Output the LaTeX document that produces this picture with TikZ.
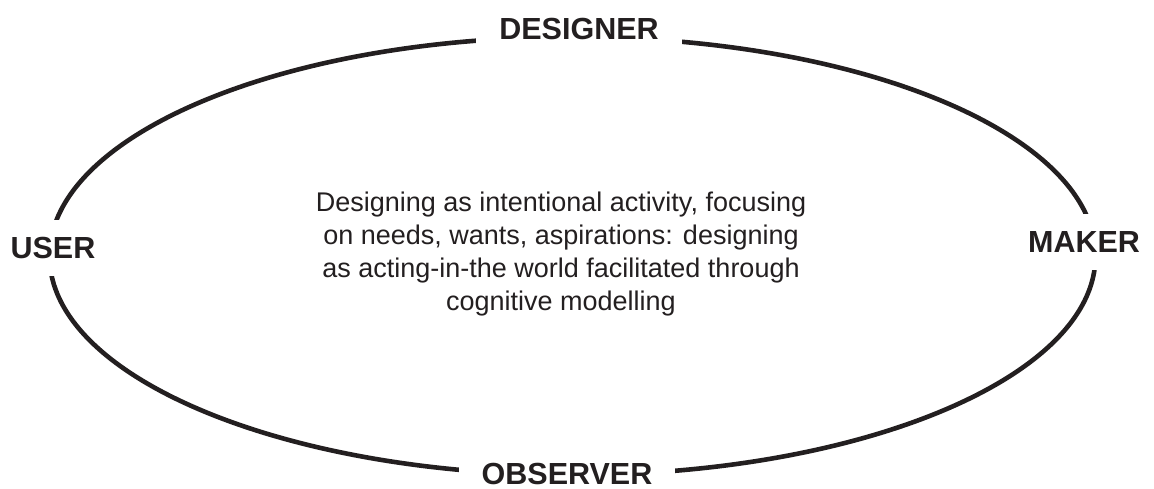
\documentclass[tikz,border=0pt]{standalone}
\usepackage{fontspec}
\setmainfont{Liberation Sans}
\definecolor{ink}{HTML}{231F20}
\begin{document}
\begin{tikzpicture}[x=1pt, y=1pt, every node/.style={text=ink},
  role/.style={font=\fontsize{30.5}{34}\selectfont\bfseries, fill=white, text height=22pt, text depth=0pt, inner xsep=23pt, inner ysep=17pt}]
\useasboundingbox (0,0) rectangle (1154,489);
% the loop of roles
\draw[ink, line width=4.6pt] (572.5,233) ellipse [x radius=523pt, y radius=219pt];
\node[role, inner ysep=11pt] (designer) at (579,460.5) {DESIGNER};
\node[role, inner ysep=4pt] (observer) at (567,15.5) {OBSERVER};
\node[role] (user) at (53,241) {USER};
\node[role] (maker) at (1084,247) {MAKER};
% centre text
\node[align=center, font=\fontsize{27}{33}\selectfont] (focus) at (561,235)
  {Designing as intentional activity, focusing\\on needs, wants, aspirations: designing\\as acting-in-the world facilitated through\\cognitive modelling};
\end{tikzpicture}
\end{document}
